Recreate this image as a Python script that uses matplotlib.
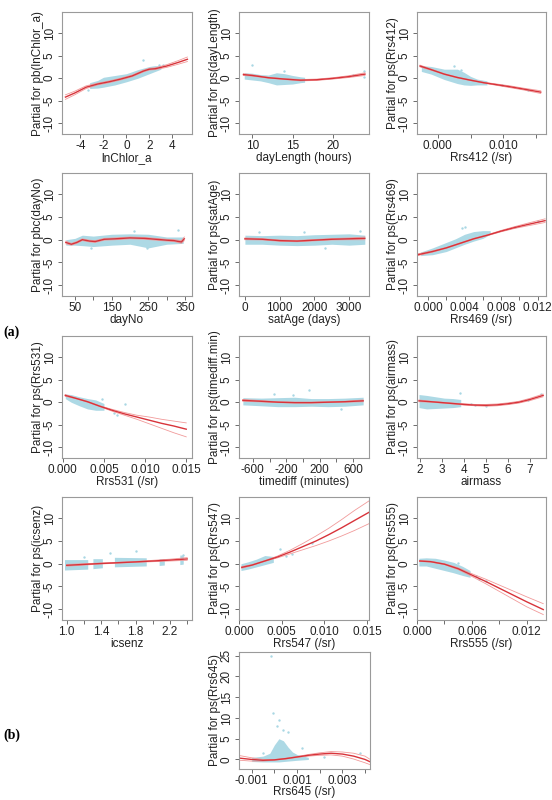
import numpy as np
import matplotlib
matplotlib.use("Agg")
import matplotlib.pyplot as plt

plt.rcParams['font.family'] = ['Liberation Sans', 'DejaVu Sans']

# ---- data (fit line, CI lines, residual cloud envelope, loose points)
nan = np.nan

chl_x = [-5.3, -4.5, -3.5, -2.5, -1.5, -0.5, 0.5, 1.5, 2.0, 2.5, 3.5, 4.5, 5.3]
chl_fit = [-4.2, -3.3, -2.0, -1.3, -0.8, -0.2, 0.5, 1.6, 2.0, 2.1, 2.7, 3.5, 4.2]
chl_lo = [-4.7, -3.7, -2.3, -1.5, -1.0, -0.4, 0.3, 1.4, 1.8, 1.9, 2.4, 3.1, 3.7]
chl_hi = [-3.7, -2.9, -1.7, -1.1, -0.6, 0.0, 0.7, 1.8, 2.2, 2.3, 3.0, 3.9, 4.7]
chl_cx = [-3.2, -2.5, -2.0, -1.0, 0.0, 1.0, 2.0, 2.5, 3.0]
chl_clo = [-2.3, -2.2, -2.0, -1.5, -0.8, 0.0, 1.0, 1.5, 2.0]
chl_chi = [-1.0, -0.5, 0.2, 0.6, 1.0, 1.9, 2.6, 2.8, 2.7]
chl_ox = [1.4, 2.8, -3.3, 3.2]
chl_oy = [4.0, 3.0, -2.6, 2.9]

dl_x = [8.9, 10, 12, 14, 16, 18, 20, 22, 24]
dl_fit = [0.8, 0.6, 0.1, -0.2, -0.45, -0.35, -0.05, 0.35, 0.9]
dl_lo = [0.6, 0.45, 0.0, -0.3, -0.6, -0.5, -0.2, 0.15, 0.6]
dl_hi = [1.0, 0.75, 0.2, -0.1, -0.3, -0.2, 0.1, 0.55, 1.2]
dl_cx = [9, 10, 11, 12, 13, 14, 15, 16, 16.5]
dl_clo = [-0.2, -0.4, -0.6, -1.0, -1.5, -1.4, -1.3, -1.0, -0.9]
dl_chi = [1.2, 1.1, 0.8, 0.7, 1.2, 1.0, 0.6, 0.3, 0.2]
dl_ox = [10.0, 23.9, 23.9, 14.0, 22.5]
dl_oy = [3.0, 1.5, 0.2, 1.7, 0.6]

r412_x = [-0.0027, -0.001, 0.001, 0.003, 0.005, 0.007, 0.009, 0.011, 0.013, 0.0157]
r412_fit = [2.7, 1.9, 0.9, 0.15, -0.45, -1.0, -1.45, -1.9, -2.4, -3.1]
r412_lo = [2.5, 1.75, 0.8, 0.05, -0.55, -1.1, -1.6, -2.1, -2.6, -3.4]
r412_hi = [2.9, 2.05, 1.0, 0.25, -0.35, -0.9, -1.3, -1.7, -2.2, -2.8]
r412_cx = [-0.0025, -0.001, 0.001, 0.003, 0.004, 0.005, 0.006, 0.0075]
r412_clo = [1.5, 0.9, -0.3, -1.2, -1.5, -1.6, -1.5, -1.5]
r412_chi = [2.8, 2.6, 2.0, 2.0, 1.3, 0.4, -0.2, -0.6]
r412_ox = [0.0035, 0.0025, 0.0098, 0.0138]
r412_oy = [1.8, 2.8, -1.5, -2.6]

dn_x = [25, 40, 55, 70, 90, 105, 130, 160, 200, 240, 270, 300, 320, 340, 348]
dn_fit = [-0.6, -1.0, -0.6, 0.0, -0.3, -0.4, 0.1, 0.2, 0.4, 0.3, 0.1, -0.1, -0.2, -0.5, 0.2]
dn_lo = [-0.9, -1.2, -0.8, -0.2, -0.5, -0.6, -0.1, 0.0, 0.2, 0.1, -0.1, -0.3, -0.4, -0.8, -0.2]
dn_hi = [-0.3, -0.8, -0.4, 0.2, -0.1, -0.2, 0.3, 0.4, 0.6, 0.5, 0.3, 0.1, 0.0, -0.2, 0.6]
dn_cx = [25, 50, 70, 100, 150, 200, 250, 300, 345]
dn_clo = [-1.2, -1.2, -1.3, -1.5, -1.2, -1.0, -1.8, -1.0, -0.8]
dn_chi = [0.0, 0.3, 1.0, 0.8, 1.2, 1.3, 1.2, 0.6, 0.6]
dn_ox = [210, 330, 95, 245]
dn_oy = [2.0, 2.2, -1.8, -1.9]

sa_x = [0, 500, 1000, 1500, 2000, 2500, 3000, 3450]
sa_fit = [0.2, 0.1, -0.2, -0.3, -0.1, 0.1, 0.2, 0.3]
sa_lo = [0.0, -0.05, -0.35, -0.45, -0.25, -0.05, 0.0, 0.0]
sa_hi = [0.4, 0.25, -0.05, -0.15, 0.05, 0.25, 0.4, 0.6]
sa_cx = [0, 500, 1000, 1500, 2000, 2500, 3000, 3450]
sa_clo = [-1.0, -1.0, -1.2, -1.3, -1.2, -1.0, -1.2, -1.0]
sa_chi = [1.0, 0.9, 1.0, 0.9, 1.1, 1.2, 1.3, 1.0]
sa_ox = [400, 2300, 3300, 1700]
sa_oy = [1.8, -1.9, 1.9, 1.6]

r469_x = [-0.0011, 0.0005, 0.002, 0.0035, 0.005, 0.0065, 0.008, 0.0095, 0.011, 0.0128]
r469_fit = [-3.3, -2.6, -1.8, -0.8, 0.2, 1.0, 1.9, 2.7, 3.4, 4.2]
r469_lo = [-3.5, -2.75, -1.9, -0.9, 0.1, 0.9, 1.75, 2.5, 3.1, 3.8]
r469_hi = [-3.1, -2.45, -1.7, -0.7, 0.3, 1.1, 2.05, 2.9, 3.7, 4.6]
r469_cx = [-0.0008, 0.0005, 0.002, 0.003, 0.004, 0.005, 0.006, 0.0068]
r469_clo = [-3.5, -3.3, -2.6, -1.8, -1.0, -0.3, 0.3, 1.2]
r469_chi = [-2.7, -1.8, -0.6, 0.2, 1.2, 1.8, 2.0, 2.0]
r469_ox = [0.0037, 0.004, 0.0095, 0.012]
r469_oy = [2.5, 2.9, 2.9, 4.2]

r531_x = [0.0003, 0.0015, 0.003, 0.0045, 0.006, 0.0075, 0.009, 0.0105, 0.012, 0.0135, 0.015]
r531_fit = [1.5, 0.9, 0.1, -0.9, -1.8, -2.6, -3.3, -4.0, -4.7, -5.3, -6.0]
r531_lo = [1.3, 0.8, 0.0, -1.0, -2.0, -2.9, -3.8, -4.8, -5.8, -6.8, -7.7]
r531_hi = [1.7, 1.0, 0.2, -0.8, -1.6, -2.3, -2.9, -3.3, -3.8, -4.2, -4.6]
r531_cx = [0.0003, 0.001, 0.002, 0.003, 0.004, 0.005]
r531_clo = [0.8, 0.0, -0.8, -1.5, -1.8, -1.8]
r531_chi = [1.8, 1.7, 1.2, 0.8, 0.5, -0.3]
r531_ox = [0.0048, 0.0076, 0.0066, 0.0062]
r531_oy = [0.8, -0.4, -2.9, -2.5]

td_x = [-720, -500, -300, -100, 100, 300, 500, 720]
td_fit = [0.4, 0.2, 0.0, -0.1, -0.1, 0.0, 0.1, 0.3]
td_lo = [0.2, 0.05, -0.1, -0.2, -0.2, -0.1, 0.0, 0.1]
td_hi = [0.6, 0.35, 0.1, 0.0, 0.0, 0.1, 0.2, 0.5]
td_cx = [-720, -500, -300, -100, 100, 300, 500, 720]
td_clo = [-0.6, -0.8, -1.0, -1.0, -0.9, -1.0, -0.9, -0.6]
td_chi = [1.0, 0.9, 1.0, 1.1, 0.8, 0.8, 0.9, 1.1]
td_ox = [-350, 70, -120, 450]
td_oy = [1.8, 2.7, 1.7, -1.6]

am_x = [1.95, 2.5, 3.0, 3.5, 4.0, 4.5, 5.0, 5.5, 6.0, 6.5, 7.0, 7.6]
am_fit = [0.3, 0.1, -0.1, -0.3, -0.5, -0.65, -0.7, -0.6, -0.35, 0.0, 0.6, 1.5]
am_lo = [0.1, 0.0, -0.2, -0.4, -0.65, -0.8, -0.9, -0.8, -0.55, -0.2, 0.35, 1.2]
am_hi = [0.5, 0.2, 0.0, -0.2, -0.35, -0.5, -0.5, -0.4, -0.15, 0.2, 0.85, 1.8]
am_cx = [1.95, 2.3, 2.7, 3.1, 3.5, 3.85]
am_clo = [-1.2, -1.5, -1.4, -1.3, -1.2, -1.0]
am_chi = [1.7, 1.5, 1.2, 0.9, 0.8, 0.6]
am_ox = [3.8, 4.5, 5.0, 7.5, 6.9, 4.3]
am_oy = [2.0, -0.6, -0.8, 1.8, 0.5, -0.4]

ic_x = [1.0, 1.4, 1.8, 2.2, 2.4]
ic_fit = [-0.35, 0.05, 0.4, 0.8, 1.05]
ic_lo = [-0.55, -0.05, 0.3, 0.6, 0.75]
ic_hi = [-0.15, 0.15, 0.5, 1.0, 1.35]
ic_cx = [0.98, 1.25, nan, 1.31, 1.42, nan, 1.56, 1.93, nan, 2.08, 2.14, nan, 2.32, 2.36]
ic_clo = [-1.5, -1.3, nan, -1.2, -1.0, nan, -0.8, -0.6, nan, -0.5, -0.4, nan, -0.3, -0.2]
ic_chi = [0.8, 0.8, nan, 1.0, 1.0, nan, 1.3, 1.2, nan, 1.0, 1.0, nan, 1.8, 1.8]
ic_ox = [1.8, 1.5, 2.35, 1.2]
ic_oy = [2.7, 2.4, 2.0, 1.4]

r547_x = [0.0003, 0.0015, 0.003, 0.0045, 0.006, 0.0075, 0.009, 0.0105, 0.012, 0.0135, 0.0152]
r547_fit = [-0.8, -0.3, 0.6, 1.5, 2.6, 3.8, 5.0, 6.4, 7.9, 9.5, 11.3]
r547_lo = [-1.0, -0.4, 0.5, 1.3, 2.2, 3.1, 4.0, 5.0, 6.1, 7.3, 8.8]
r547_hi = [-0.6, -0.2, 0.7, 1.7, 3.0, 4.5, 6.1, 7.8, 9.7, 11.7, 13.8]
r547_cx = [0.0002, 0.001, 0.002, 0.003, 0.004]
r547_clo = [-1.5, -1.2, -0.7, -0.2, 0.3]
r547_chi = [0.0, 0.4, 1.0, 1.8, 1.6]
r547_ox = [0.0048, 0.0055, 0.0062, 0.0085]
r547_oy = [3.3, 1.8, 2.2, 4.5]

r555_x = [0.0003, 0.0015, 0.003, 0.0045, 0.006, 0.0075, 0.009, 0.0105, 0.012, 0.0138]
r555_fit = [0.6, 0.45, -0.1, -1.1, -2.5, -3.9, -5.4, -6.9, -8.4, -10.1]
r555_lo = [0.5, 0.35, -0.2, -1.3, -2.8, -4.4, -6.1, -7.8, -9.5, -11.2]
r555_hi = [0.7, 0.55, 0.0, -0.9, -2.2, -3.4, -4.7, -6.0, -7.3, -8.8]
r555_cx = [0.0002, 0.001, 0.002, 0.003, 0.004, 0.005, 0.0058]
r555_clo = [-0.5, -0.5, -1.0, -1.5, -2.0, -2.6, -3.0]
r555_chi = [1.2, 1.3, 1.2, 0.8, 0.3, -0.6, -1.5]
r555_ox = [0.0045, 0.0068, 0.0075, 0.0065]
r555_oy = [0.2, -3.3, -3.8, -2.6]

r645_x = [-0.0015, -0.001, -0.0005, 0.0, 0.0005, 0.001, 0.0015, 0.002, 0.0025, 0.003, 0.0035, 0.004, 0.0042]
r645_fit = [0.3, 0.0, -0.2, -0.1, 0.2, 0.6, 1.0, 1.3, 1.5, 1.3, 0.8, 0.0, -0.5]
r645_lo = [-0.2, -0.4, -0.4, -0.2, 0.1, 0.5, 0.8, 1.0, 1.1, 0.8, 0.1, -0.8, -1.2]
r645_hi = [0.9, 0.4, 0.0, 0.0, 0.3, 0.7, 1.2, 1.6, 1.9, 1.8, 1.5, 0.8, 0.1]
r645_cx = [-0.001, -0.0005, -0.0002, 0.0, 0.0002, 0.0004, 0.0006, 0.0008, 0.001, 0.0015]
r645_clo = [-0.5, -0.6, -0.6, -0.6, -0.6, -0.5, -0.4, -0.3, -0.2, 0.0]
r645_chi = [0.5, 0.8, 1.5, 3.5, 5.0, 4.5, 3.0, 1.8, 1.2, 0.5]
r645_ox = [-0.00015, -0.00005, 0.0001, 0.0004, 0.0006, 0.0012, 0.0022, 0.0038, -0.0005, 0.0002]
r645_oy = [25.0, 11.3, 8.0, 7.0, 6.5, 2.8, 0.5, 1.5, 1.5, 9.5]

# ticks: positions and labels ('' = unlabeled tick)
chl_ticks, chl_labels = [-4, -2, 0, 2, 4], ['-4', '-2', '0', '2', '4']
dl_ticks, dl_labels = [10, 15, 20], ['10', '15', '20']
r412_ticks, r412_labels = [0, 0.005, 0.01, 0.015], ['0.000', '', '0.010', '']
dn_ticks = [50, 100, 150, 200, 250, 300, 350]
dn_labels = ['50', '', '150', '', '250', '', '350']
sa_ticks, sa_labels = [0, 1000, 2000, 3000], ['0', '1000', '2000', '3000']
r469_ticks = [0, 0.002, 0.004, 0.006, 0.008, 0.010, 0.012]
r469_labels = ['0.000', '', '0.004', '', '0.008', '', '0.012']
r531_ticks = [0, 0.005, 0.010, 0.015]
r531_labels = ['0.000', '0.005', '0.010', '0.015']
td_ticks = [-600, -400, -200, 0, 200, 400, 600]
td_labels = ['-600', '', '-200', '', '200', '', '600']
am_ticks, am_labels = [2, 3, 4, 5, 6, 7], ['2', '3', '4', '5', '6', '7']
ic_ticks = [1.0, 1.2, 1.4, 1.6, 1.8, 2.0, 2.2, 2.4]
ic_labels = ['1.0', '', '1.4', '', '1.8', '', '2.2', '']
r547_ticks = [0, 0.005, 0.010, 0.015]
r547_labels = ['0.000', '0.005', '0.010', '0.015']
r555_ticks = [0, 0.003, 0.006, 0.009, 0.012]
r555_labels = ['0.000', '', '0.006', '', '0.012']
r645_ticks = [-0.001, 0, 0.001, 0.002, 0.003, 0.004]
r645_labels = ['-0.001', '', '0.001', '', '0.003', '']

W, H = 552, 800
fig = plt.figure(figsize=(W / 100, H / 100), dpi=100)

CLOUD = '#a9d7e4'
FIT = '#d8333a'
CI = '#f19a9a'
EDGE = '#9a9a9a'


def panel(box, xlim, ylim, d, yt, xt, xl, yl, xpad=0):
    l, t, r, b = box
    ax = fig.add_axes([l / W, 1 - b / H, (r - l) / W, (b - t) / H])
    x, fit, lo, hi, cx, clo, chi, ox, oy = d
    ax.fill_between(cx, clo, chi, color=CLOUD, lw=0, alpha=0.95)
    ax.scatter(ox, oy, s=3, color=CLOUD, lw=0)
    ax.plot(x, lo, color=CI, lw=0.6)
    ax.plot(x, hi, color=CI, lw=0.6)
    ax.plot(x, fit, color=FIT, lw=1.0)
    ax.set_xlim(*xlim)
    ax.set_ylim(*ylim)
    ax.set_xticks(xt[0])
    ax.set_xticklabels(xt[1])
    ax.set_yticks(yt)
    ax.set_yticklabels([str(v) for v in yt], rotation=90, va='center')
    ax.tick_params(length=3, width=0.6, color='#555555', labelsize=8.5,
                   pad=1.5, labelcolor='#222222')
    for s in ax.spines.values():
        s.set_color(EDGE)
        s.set_linewidth(0.8)
    ax.set_xlabel(xl, fontsize=8.5, labelpad=xpad, color='#222222')
    ax.set_ylabel(yl, fontsize=8.5, labelpad=0, color='#222222')
    return ax


cols = [(62, 192), (239, 369), (417, 546)]
rows = [(12, 134), (173, 296), (336, 458), (497, 620)]
ylim_std = (-12.4, 14.7)
yt_std = [-10, -5, 0, 5, 10]


def box(r, c):
    return (cols[c][0], rows[r][0], cols[c][1], rows[r][1])


panel(box(0, 0), (-5.6, 5.7), ylim_std,
      (chl_x, chl_fit, chl_lo, chl_hi, chl_cx, chl_clo, chl_chi, chl_ox, chl_oy),
      yt_std, (chl_ticks, chl_labels), 'lnChlor_a', 'Partial for pb(lnChlor_a)')
panel(box(0, 1), (8.35, 24.5), ylim_std,
      (dl_x, dl_fit, dl_lo, dl_hi, dl_cx, dl_clo, dl_chi, dl_ox, dl_oy),
      yt_std, (dl_ticks, dl_labels), 'dayLength (hours)', 'Partial for ps(dayLength)')
panel(box(0, 2), (-0.00316, 0.0165), ylim_std,
      (r412_x, r412_fit, r412_lo, r412_hi, r412_cx, r412_clo, r412_chi, r412_ox, r412_oy),
      yt_std, (r412_ticks, r412_labels), 'Rrs412 (/sr)', 'Partial for ps(Rrs412)')

panel(box(1, 0), (14.6, 369), ylim_std,
      (dn_x, dn_fit, dn_lo, dn_hi, dn_cx, dn_clo, dn_chi, dn_ox, dn_oy),
      yt_std, (dn_ticks, dn_labels), 'dayNo', 'Partial for pbc(dayNo)')
panel(box(1, 1), (-170, 3570), ylim_std,
      (sa_x, sa_fit, sa_lo, sa_hi, sa_cx, sa_clo, sa_chi, sa_ox, sa_oy),
      yt_std, (sa_ticks, sa_labels), 'satAge (days)', 'Partial for ps(satAge)')
panel(box(1, 2), (-0.0012, 0.0129), ylim_std,
      (r469_x, r469_fit, r469_lo, r469_hi, r469_cx, r469_clo, r469_chi, r469_ox, r469_oy),
      yt_std, (r469_ticks, r469_labels), 'Rrs469 (/sr)', 'Partial for ps(Rrs469)')

panel(box(2, 0), (-0.0001, 0.0157), ylim_std,
      (r531_x, r531_fit, r531_lo, r531_hi, r531_cx, r531_clo, r531_chi, r531_ox, r531_oy),
      yt_std, (r531_ticks, r531_labels), 'Rrs531 (/sr)', 'Partial for ps(Rrs531)')
panel(box(2, 1), (-766, 790), ylim_std,
      (td_x, td_fit, td_lo, td_hi, td_cx, td_clo, td_chi, td_ox, td_oy),
      yt_std, (td_ticks, td_labels), 'timediff (minutes)', 'Partial for ps(timediff.min)')
panel(box(2, 2), (1.86, 7.73), ylim_std,
      (am_x, am_fit, am_lo, am_hi, am_cx, am_clo, am_chi, am_ox, am_oy),
      yt_std, (am_ticks, am_labels), 'airmass', 'Partial for ps(airmass)')

panel(box(3, 0), (0.945, 2.456), ylim_std,
      (ic_x, ic_fit, ic_lo, ic_hi, ic_cx, ic_clo, ic_chi, ic_ox, ic_oy),
      yt_std, (ic_ticks, ic_labels), 'icsenz', 'Partial for ps(icsenz)')
panel(box(3, 1), (-0.00003, 0.01523), ylim_std,
      (r547_x, r547_fit, r547_lo, r547_hi, r547_cx, r547_clo, r547_chi, r547_ox, r547_oy),
      yt_std, (r547_ticks, r547_labels), 'Rrs547 (/sr)', 'Partial for ps(Rrs547)')
panel(box(3, 2), (0.0, 0.0141), ylim_std,
      (r555_x, r555_fit, r555_lo, r555_hi, r555_cx, r555_clo, r555_chi, r555_ox, r555_oy),
      yt_std, (r555_ticks, r555_labels), 'Rrs555 (/sr)', 'Partial for ps(Rrs555)')

panel((239, 652, 370, 769), (-0.00156, 0.00422), (-2.3, 25.9),
      (r645_x, r645_fit, r645_lo, r645_hi, r645_cx, r645_clo, r645_chi, r645_ox, r645_oy),
      [0, 5, 10, 15, 20, 25], (r645_ticks, r645_labels), 'Rrs645 (/sr)',
      'Partial for ps(Rrs645)', xpad=-1)

fig.text(3 / W, 1 - 332 / H, '(a)', fontsize=10, fontweight='bold',
         family=['Liberation Serif', 'DejaVu Serif'], va='center')
fig.text(3 / W, 1 - 735 / H, '(b)', fontsize=10, fontweight='bold',
         family=['Liberation Serif', 'DejaVu Serif'], va='center')

fig.savefig('out.png', dpi=100)
